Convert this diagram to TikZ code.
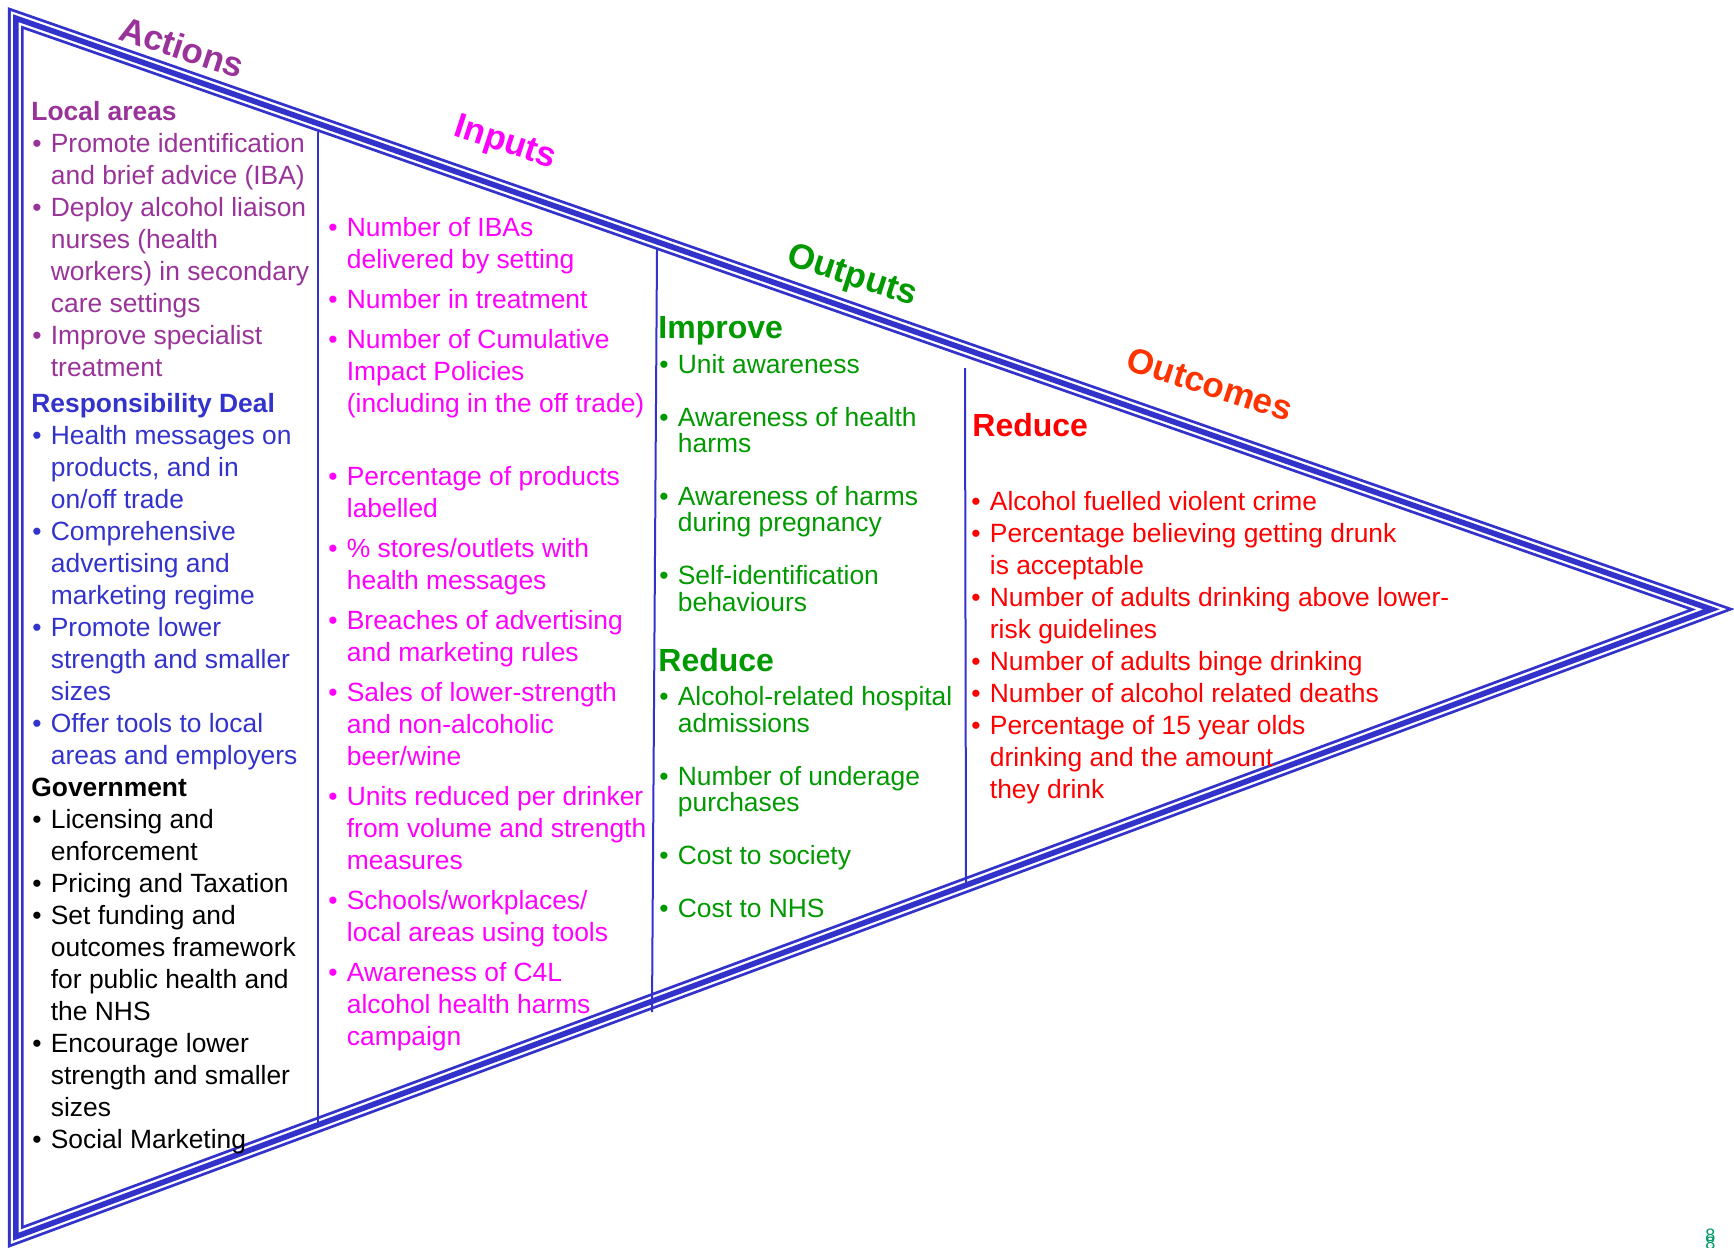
\documentclass[tikz,border=0pt]{standalone}
\usepackage{fontspec}
\setmainfont{Liberation Sans}
\definecolor{lineblue}{HTML}{3333CC}
\definecolor{actpurple}{HTML}{993399}
\definecolor{inmagenta}{HTML}{FF00FF}
\definecolor{outgreen}{HTML}{009900}
\definecolor{outcred}{HTML}{FF3300}
\definecolor{redtxt}{HTML}{FF0000}
\definecolor{pagegreen}{HTML}{009966}
\newcommand{\itembul}{\makebox[9.75pt][l]{\hspace{0.5pt}•}}
\newcommand{\itemcnt}{\hspace*{9.75pt}}
\tikzset{
  coltext/.style={anchor=base west, inner sep=0pt, align=left, font=\fontsize{13.2}{16}\selectfont},
  tightcol/.style={coltext, font=\fontsize{13.2}{13.2}\selectfont},
  subhead/.style={anchor=base west, inner sep=0pt, font=\bfseries\fontsize{16}{16}\selectfont},
  stagetitle/.style={inner sep=0pt, rotate=-18, font=\bfseries\fontsize{17.5}{17.5}\selectfont},
  divider/.style={draw=lineblue, line width=1pt},
  triedge/.style={draw=lineblue, line width=1.4pt, double=white, double distance=5.05pt},
}

\begin{document}
\begin{tikzpicture}[x=0.5pt, y=-0.5pt]
  \useasboundingbox (0,0) rectangle (1734,1247);

  % triangle, centre of the thick stroke
  \coordinate (tl) at (15.8,18.2);
  \coordinate (bl) at (15.8,1236.7);
  \coordinate (ap) at (1711.5,609.3);
  \draw[triedge] (tl) -- (bl) -- (ap) -- cycle;
  \draw[lineblue, line width=2.8pt] (tl) -- (bl) -- (ap) -- cycle;

  % column dividers
  \coordinate (d1t) at (318,132);  \coordinate (d1b) at (318,1122);
  \coordinate (d2t) at (657,250);  \coordinate (d2b) at (652,1012);
  \coordinate (d3t) at (965,368);  \coordinate (d3b) at (966,883);
  \draw[divider] (d1t) -- (d1b);
  \draw[divider] (d2t) -- (d2b);
  \draw[divider] (d3t) -- (d3b);

  % stage titles
  \node[stagetitle, actpurple] (actions) at (182,47) {Actions};
  \node[stagetitle, inmagenta] (inputs) at (505,144) {Inputs};
  \node[stagetitle, outgreen] (outputs) at (852,277) {Outputs};
  \node[stagetitle, outcred] (outcomes) at (1210,384) {Outcomes};

  % actions (nodes sit on the baseline of their last line)
  \node[coltext, actpurple] (local) at (31,376) {{\bfseries Local areas}\\
    \itembul Promote identification\\
    \itemcnt and brief advice (IBA)\\
    \itembul Deploy alcohol liaison\\
    \itemcnt nurses (health\\
    \itemcnt workers) in secondary\\
    \itemcnt care settings\\
    \itembul Improve specialist\\
    \itemcnt treatment};
  \node[coltext, lineblue] (deal) at (31,764) {{\bfseries Responsibility Deal}\\
    \itembul Health messages on\\
    \itemcnt products, and in\\
    \itemcnt on/off trade\\
    \itembul Comprehensive\\
    \itemcnt advertising and\\
    \itemcnt marketing regime\\
    \itembul Promote lower\\
    \itemcnt strength and smaller\\
    \itemcnt sizes\\
    \itembul Offer tools to local\\
    \itemcnt areas and employers};
  \node[coltext, black] (govt) at (31,1148) {{\bfseries Government}\\
    \itembul Licensing and\\
    \itemcnt enforcement\\
    \itembul Pricing and Taxation\\
    \itembul Set funding and\\
    \itemcnt outcomes framework\\
    \itemcnt for public health and\\
    \itemcnt the NHS\\
    \itembul Encourage lower\\
    \itemcnt strength and smaller\\
    \itemcnt sizes\\
    \itembul Social Marketing};

  % inputs
  \node[coltext, inmagenta] (inlist) at (327,1045) {\itembul Number of IBAs\\
    \itemcnt delivered by setting\\[4pt]
    \itembul Number in treatment\\[4pt]
    \itembul Number of Cumulative\\
    \itemcnt Impact Policies\\
    \itemcnt (including in the off trade)\\[20.5pt]
    \itembul Percentage of products\\
    \itemcnt labelled\\[4pt]
    \itembul \% stores/outlets with\\
    \itemcnt health messages\\[4pt]
    \itembul Breaches of advertising\\
    \itemcnt and marketing rules\\[4pt]
    \itembul Sales of lower-strength\\
    \itemcnt and non-alcoholic\\
    \itemcnt beer/wine\\[4pt]
    \itembul Units reduced per drinker\\
    \itemcnt from volume and strength\\
    \itemcnt measures\\[4pt]
    \itembul Schools/workplaces/\\
    \itemcnt local areas using tools\\[4pt]
    \itembul Awareness of C4L\\
    \itemcnt alcohol health harms\\
    \itemcnt campaign};

  % outputs
  \node[subhead, outgreen] (improve) at (658,338.5) {Improve};
  \node[tightcol, outgreen] (implist) at (658,611) {\itembul Unit awareness\\[13.2pt]
    \itembul Awareness of health\\
    \itemcnt harms\\[13.2pt]
    \itembul Awareness of harms\\
    \itemcnt during pregnancy\\[13.2pt]
    \itembul Self-identification\\
    \itemcnt behaviours};
  \node[subhead, outgreen] (outreduce) at (658,671.5) {Reduce};
  \node[tightcol, outgreen] (redlist) at (658,917) {\itembul Alcohol-related hospital\\
    \itemcnt admissions\\[13.2pt]
    \itembul Number of underage\\
    \itemcnt purchases\\[13.2pt]
    \itembul Cost to society\\[13.2pt]
    \itembul Cost to NHS};

  % outcomes
  \node[subhead, redtxt] (increduce) at (972,436.5) {Reduce};
  \node[coltext, redtxt] (inclist) at (970,798.5) {\itembul Alcohol fuelled violent crime\\
    \itembul Percentage believing getting drunk\\
    \itemcnt is acceptable\\
    \itembul Number of adults drinking above lower-\\
    \itemcnt risk guidelines\\
    \itembul Number of adults binge drinking\\
    \itembul Number of alcohol related deaths\\
    \itembul Percentage of 15 year olds\\
    \itemcnt drinking and the amount\\
    \itemcnt they drink};

  % page number
  \node[anchor=base west, inner sep=0pt, pagegreen, font=\fontsize{9}{9}\selectfont] (pagenum) at (1705,1241) {8};
  \node[anchor=base west, inner sep=0pt, pagegreen, font=\fontsize{9}{9}\selectfont] (pagenumb) at (1705,1249) {8};
\end{tikzpicture}
\end{document}
